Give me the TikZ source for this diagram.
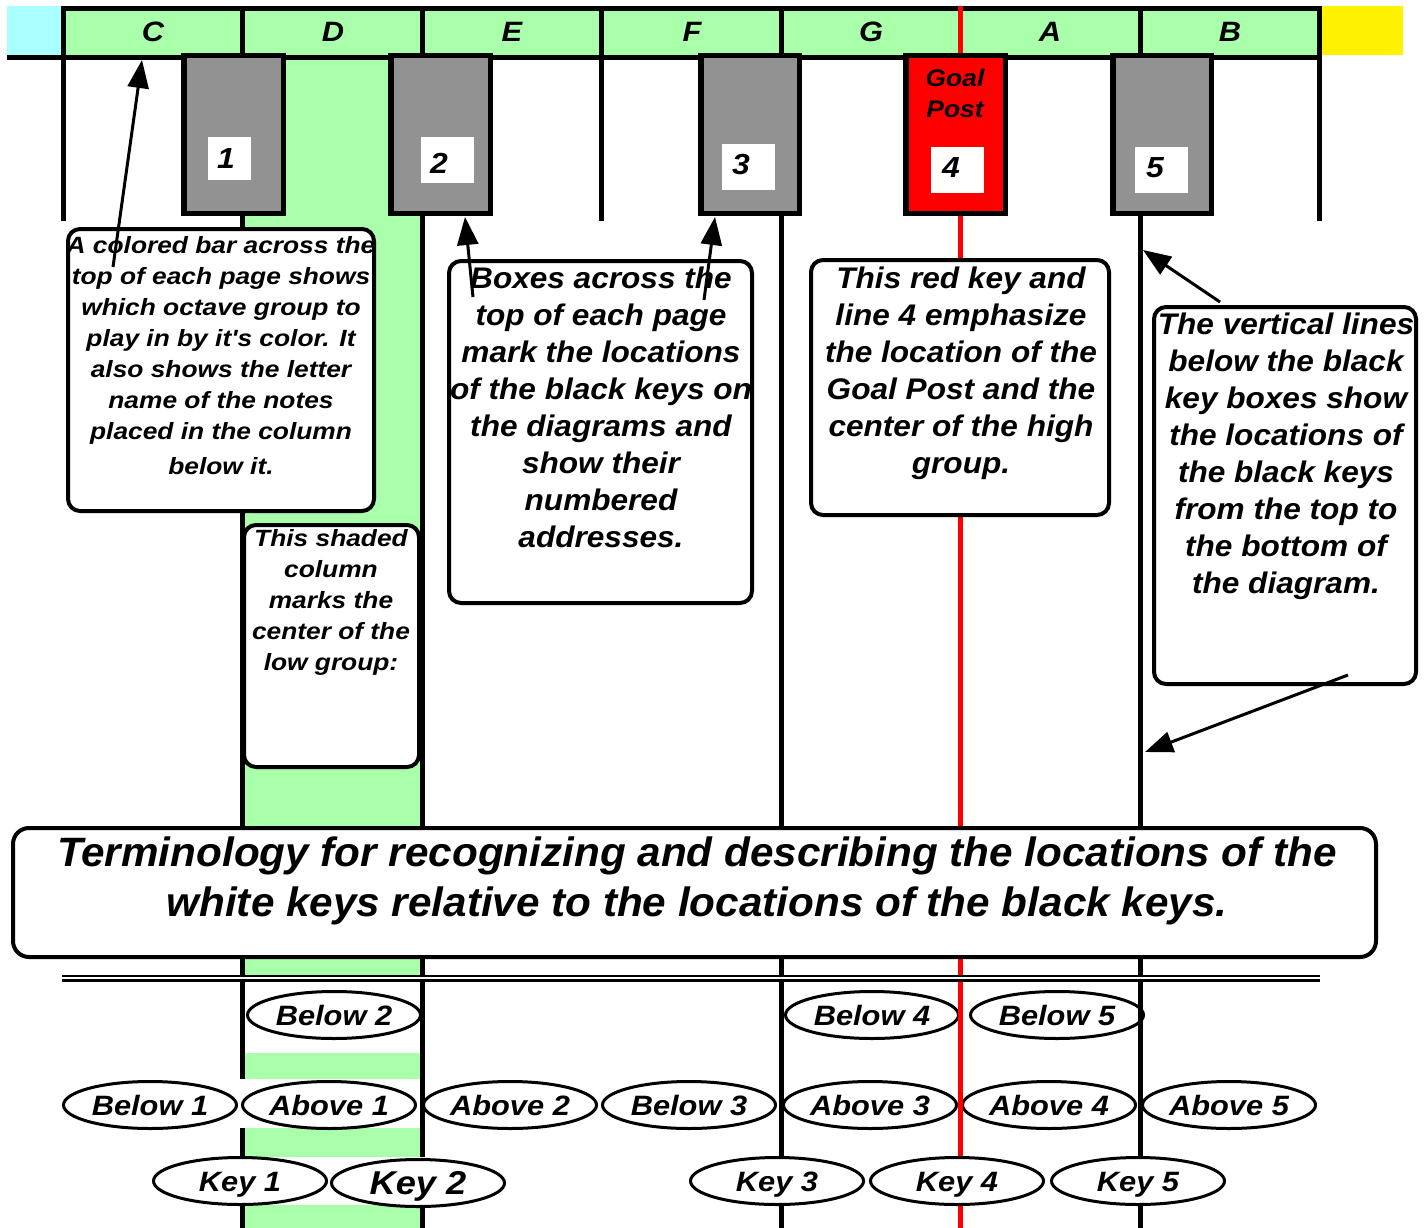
\documentclass[tikz,border=0pt]{standalone}
\usepackage{fontspec}
\setmainfont{Liberation Sans}
\newfontfamily\fsm[FakeStretch=1.12]{Liberation Sans}
\newfontfamily\fmd[FakeStretch=1.06]{Liberation Sans}
\newfontfamily\fbg[FakeStretch=1.03]{Liberation Sans}
\newfontfamily\fel[FakeStretch=1.1]{Liberation Sans}
\usetikzlibrary{arrows.meta,shapes.geometric}
\definecolor{kgreen}{RGB}{170,255,170}
\definecolor{kcyan}{RGB}{170,255,255}
\definecolor{kgray}{RGB}{146,146,146}
\definecolor{kred}{RGB}{255,0,0}
\newcommand\fz[2]{\fontsize{#1}{#2}\selectfont}
\tikzset{
  vline/.style={line width=4.5pt, black},
  rline/.style={line width=4.5pt, kred},
  barline/.style={line width=5pt, black},
  keybox/.style={rectangle, draw=black, line width=5.5pt, fill=kgray, inner sep=0pt, minimum height=157.5pt},
  numbox/.style={rectangle, fill=white, inner sep=0pt},
  numtxt/.style={anchor=base, inner sep=0pt, font=\fel\bfseries\itshape\fz{29}{31}},
  lettxt/.style={anchor=base, inner sep=0pt, font=\fel\bfseries\itshape\fz{28}{31}},
  callout/.style={rectangle, rounded corners=12pt, draw=black, line width=4pt, fill=white, inner sep=0pt},
  smtxt/.style={anchor=north, inner sep=0pt, align=center, font=\fsm\bfseries\itshape\fz{23.5}{31}},
  mdtxt/.style={anchor=north, inner sep=0pt, align=center, font=\fmd\bfseries\itshape\fz{29.8}{37}},
  bgtxt/.style={anchor=north, inner sep=0pt, align=center, font=\fbg\bfseries\itshape\fz{41}{50}},
  ell/.style={ellipse, draw=black, line width=3pt, fill=white, inner sep=0pt, minimum width=173pt, minimum height=47pt, text height=20pt, text depth=0pt, font=\fel\bfseries\itshape\fz{28}{31}},
  arr/.style={line width=3pt, black, -{Triangle[length=28pt,width=21pt]}},
}
\begin{document}
\begin{tikzpicture}[x=1pt,y=-1pt]
\useasboundingbox (0,0) rectangle (1427,1228);
\fill[white] (0,0) rectangle (1427,1228);
% colour blocks
\fill[kcyan] (7,6) rectangle (62,55);
\fill[yellow] (1322,6) rectangle (1403,55);
\fill[kgreen] (62,8.5) rectangle (1320,57.5);
\fill[kgreen] (242.5,57.5) rectangle (422.5,1230);
% white bands in shaded column
\fill[white] (240,982) rectangle (421,1053);
\fill[white] (240,1079) rectangle (421,1128);
\fill[white] (240,1157) rectangle (421,1205);
% upper ellipse rows
\node[ell] (b2) at (334,1015) {Below 2};
\node[ell] (b4) at (872,1015) {Below 4};
\node[ell] (b5) at (1057,1015) {Below 5};
\node[ell] (b1) at (150,1105) {Below 1};
\node[ell] (a1) at (329,1105) {Above 1};
\node[ell] (a2) at (510,1105) {Above 2};
\node[ell] (b3) at (689,1105) {Below 3};
\node[ell] (a3) at (870,1105) {Above 3};
\node[ell] (a4) at (1049,1105) {Above 4};
\node[ell] (a5) at (1229,1105) {Above 5};
% vertical lines
\draw[vline] (63.5,6) -- (63.5,221);
\draw[vline] (242.5,6) -- (242.5,1079);
\draw[vline] (242.5,1128) -- (242.5,1157);
\draw[vline] (242.5,1205) -- (242.5,1230);
\draw[vline] (422.5,6) -- (422.5,1157);
\draw[vline] (422.5,1205) -- (422.5,1230);
\draw[vline] (601.5,6) -- (601.5,221);
\draw[vline] (781.5,6) -- (781.5,1157);
\draw[vline] (781.5,1205) -- (781.5,1230);
\draw[vline] (1140.5,6) -- (1140.5,1160);
\draw[vline] (1140.5,1205) -- (1140.5,1230);
\draw[vline] (1319.5,6) -- (1319.5,221);
% bar borders
\draw[barline] (61,8.5) -- (1322,8.5);
\draw[barline] (7,57.5) -- (1322,57.5);
% red line
\draw[rline] (960.5,6) -- (960.5,1157);
\draw[rline] (960.5,1205) -- (960.5,1230);
% letters
\node[lettxt] (lc) at (153,41.7) {C};
\node[lettxt] (ld) at (333,41.7) {D};
\node[lettxt] (le) at (512,41.7) {E};
\node[lettxt] (lf) at (692,41.7) {F};
\node[lettxt] (lg) at (871,41.7) {G};
\node[lettxt] (la) at (1050,41.7) {A};
\node[lettxt] (lb) at (1230,41.7) {B};
% black key boxes
\node[keybox, minimum width=99.5pt] (k1) at (233.5,134.5) {};
\node[keybox, minimum width=99.5pt] (k2) at (440.5,134.5) {};
\node[keybox, minimum width=98.5pt] (k3) at (750,134.5) {};
\node[keybox, minimum width=99.5pt, fill=kred] (k4) at (955.5,134.5) {};
\node[keybox, minimum width=98.5pt] (k5) at (1162,134.5) {};
\node[numbox, minimum width=43pt, minimum height=43pt] (n1) at (229.5,158.5) {};
\node[numbox, minimum width=53pt, minimum height=46pt] (n2) at (447.5,160) {};
\node[numbox, minimum width=53pt, minimum height=46pt] (n3) at (748.5,167) {};
\node[numbox, minimum width=53pt, minimum height=46pt] (n4) at (957.5,170) {};
\node[numbox, minimum width=53pt, minimum height=46pt] (n5) at (1161.5,170) {};
\node[numtxt] (t1) at (226,168) {1};
\node[numtxt] (t2) at (439,174) {2};
\node[numtxt] (t3) at (741,175) {3};
\node[numtxt] (t4) at (951,178) {4};
\node[numtxt] (t5) at (1155,178) {5};
\node[anchor=north, inner sep=0pt, align=center, font=\fel\bfseries\itshape\fz{24}{31}] (gp) at (955,64.3) {\strut Goal\\Post};
% callouts
\node[callout, minimum width=306pt, minimum height=282pt] (c1) at (221,370) {};
\node[smtxt] (c1t) at (221,231.5) {\strut A colored bar across the\\top of each page shows\\which octave group to\\play in by it's color. It\\also shows the letter\\name of the notes\\placed in the column\\[4pt]below it.};
\node[callout, minimum width=175pt, minimum height=242pt] (c2) at (331.5,646) {};
\node[smtxt] (c2t) at (331,525) {\strut This shaded\\column\\marks the\\center of the\\low group:};
\node[callout, minimum width=303pt, minimum height=342pt] (c3) at (600.5,432) {};
\node[mdtxt] (c3t) at (601,262) {\strut Boxes across the\\top of each page\\mark the locations\\of the black keys on\\the diagrams and\\show their\\numbered\\addresses.};
\node[callout, minimum width=298pt, minimum height=255pt] (c4) at (960,387.5) {};
\node[mdtxt] (c4t) at (961,262) {\strut This red key and\\line 4 emphasize\\the location of the\\Goal Post and the\\center of the high\\group.};
\node[callout, minimum width=262pt, minimum height=377pt] (c5) at (1285,495.5) {};
\node[mdtxt] (c5t) at (1286,308) {\strut The vertical lines\\below the black\\key boxes show\\the locations of\\the black keys\\from the top to\\the bottom of\\the diagram.};
% terminology
\node[callout, rounded corners=16pt, minimum width=1363pt, minimum height=129pt] (term) at (694.5,892.5) {};
\node[bgtxt] (termt) at (697,831) {\strut Terminology for recognizing and describing the locations of the\\white keys relative to the locations of the black keys.};
% double line
\coordinate (dl1) at (62,978.3);
\coordinate (dl2) at (1320,978.3);
\draw[line width=2.2pt, double=white, double distance=2.2pt] (dl1) -- (dl2);
% key row ellipses
\node[ell] (y1) at (240,1181) {Key 1};
\node[ell, text height=23.5pt, font=\fel\bfseries\itshape\fz{33}{35}] (y2) at (418,1183) {Key 2};
\node[ell] (y3) at (777,1181) {Key 3};
\node[ell] (y4) at (957,1181) {Key 4};
\node[ell] (y5) at (1138,1181) {Key 5};
% arrows
\coordinate (a1s) at (113,267); \coordinate (a1e) at (142,60);
\coordinate (a2s) at (473,297); \coordinate (a2e) at (465,217);
\coordinate (a3s) at (704,300); \coordinate (a3e) at (715,217);
\coordinate (a4s) at (1220,302); \coordinate (a4e) at (1143,250);
\coordinate (a5s) at (1348,675); \coordinate (a5e) at (1145,752);
\draw[arr] (a1s) -- (a1e);
\draw[arr] (a2s) -- (a2e);
\draw[arr] (a3s) -- (a3e);
\draw[arr] (a4s) -- (a4e);
\draw[arr] (a5s) -- (a5e);
\end{tikzpicture}
\end{document}
